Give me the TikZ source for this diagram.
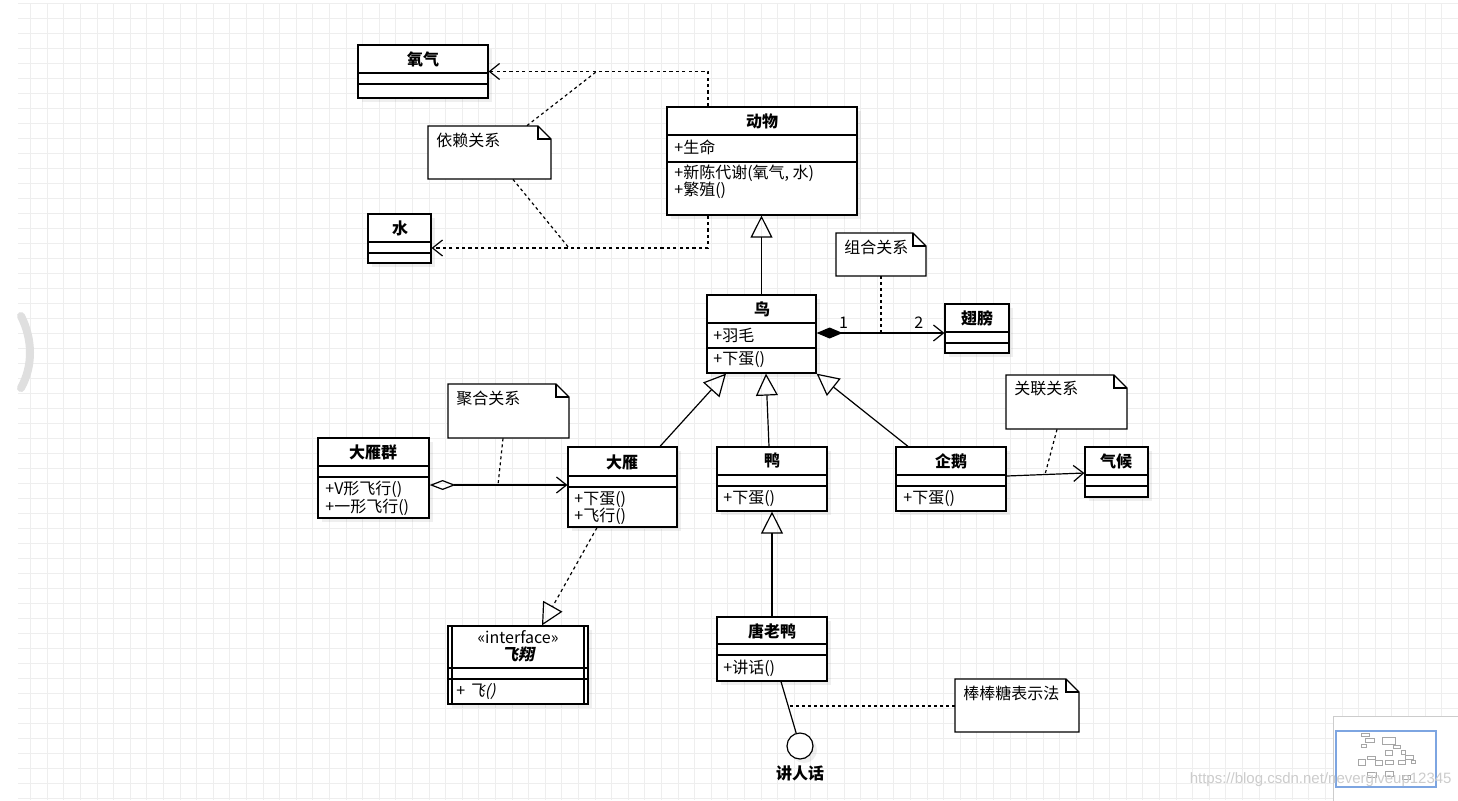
\documentclass[tikz,border=0pt]{standalone}
\usepackage{fontspec}
\setmainfont{Noto Sans CJK SC}[AutoFakeSlant=0.2]
\newfontfamily\slantfont{Noto Sans CJK SC}[FakeSlant=0.2, BoldFeatures={FakeSlant=0.2}]
\newfontfamily\wmfont{Liberation Sans}
\usetikzlibrary{calc, positioning, fit, arrows.meta, shadows}

\definecolor{gridgray}{RGB}{238,238,238}
\definecolor{mapblue}{RGB}{125,165,225}

\tikzset{
  classbox/.style={draw, fill=white, line width=0.6pt, inner sep=0pt,
    drop shadow={opacity=0.12, shadow xshift=2pt, shadow yshift=-2pt}},
  notepath/.style={draw, fill=white, line width=0.6pt},
  cname/.style={font=\fontsize{8}{9}\selectfont\bfseries, inner sep=0pt},
  member/.style={anchor=west, inner sep=0pt},
  link/.style={line width=0.6pt},
  notelink/.style={link, dash pattern=on 1.5pt off 1.5pt},
  dep/.style={link, dash pattern=on 1.6pt off 1.6pt, -{Straight Barb[length=5pt, width=8pt]}},
  gen/.style={link, -{Triangle[open, length=11pt, width=11pt]}},
  real/.style={link, dash pattern=on 1.6pt off 1.6pt, -{Triangle[open, length=11pt, width=11pt]}},
  comp/.style={link, {Diamond[length=13pt, width=5.5pt]}-{Straight Barb[length=5pt, width=8pt]}},
  aggr/.style={link, {Diamond[open, length=13pt, width=5pt]}-{Straight Barb[length=5pt, width=8pt]}},
  assoc/.style={link, -{Straight Barb[length=5pt, width=8pt]}},
  lolli/.style={draw, circle, fill=white, line width=0.6pt, minimum size=13pt, inner sep=0pt,
    drop shadow={opacity=0.12, shadow xshift=2pt, shadow yshift=-2pt}}
}

% class box: name, x1, y1, x2, y2, first and second compartment line
\newcommand{\umlclass}[7]{%
  \node[classbox, fit={(#2,#3) (#4,#5)}] (#1) {};
  \draw[link] (#2,#6) -- (#4,#6) (#2,#7) -- (#4,#7);
}
% note with folded corner: name, x1, y1, x2, y2, text
\newcommand{\umlnote}[6]{%
  \node[inner sep=0pt, fit={(#2,#3) (#4,#5)}] (#1) {};
  \draw[notepath] (#2,#3) -- ({#4-13},#3) -- (#4,{#3+13}) -- (#4,#5) -- (#2,#5) -- cycle;
  \draw[link] ({#4-13},#3) |- (#4,{#3+13});
  \node[member] (#1-txt) at ({#2+8},{#3+14}) {#6};
}

\begin{document}
\begin{tikzpicture}[x=0.5pt, y=-0.5pt, font=\fontsize{8}{9}\selectfont]
\useasboundingbox (0,0) rectangle (1458,800);
\fill[white] (0,0) rectangle (1458,800);
% canvas grid
\foreach \i in {0,...,85} \draw[gridgray, line width=0.5pt] ({30.7+16.6*\i},3) -- ({30.7+16.6*\i},800);
\foreach \j in {0,...,53} \draw[gridgray, line width=0.5pt] (18,{3.3+15*\j}) -- (1458,{3.3+15*\j});
% scroll handle
\draw[gray!25, line width=4pt, line cap=round] (21,316) .. controls (33,340) and (33,366) .. (21,388);

% classes
\umlclass{oxygen}{358}{45}{488}{98}{73}{84}
\node[cname] (oxygen-t) at (423,59) {氧气};
\umlclass{water}{368}{214}{431}{263}{242}{253}
\node[cname] (water-t) at (400,228) {水};
\umlclass{animal}{667}{107}{857}{215}{135}{162}
\node[cname] (animal-t) at (762,121) {动物};
\node[member] (animal-a1) at (674,147) {+生命};
\node[member] (animal-m1) at (674,173) {+新陈代谢(氧气, 水)};
\node[member] (animal-m2) at (674,190) {+繁殖()};
\umlclass{bird}{707}{295}{816}{373}{323}{348}
\node[cname] (bird-t) at (762,309) {鸟};
\node[member] (bird-a1) at (713,335) {+羽毛};
\node[member] (bird-m1) at (713,360) {+下蛋()};
\umlclass{wing}{945}{304}{1009}{353}{332}{343}
\node[cname] (wing-t) at (977,318) {翅膀};
\umlclass{flock}{318}{438}{429}{518}{466}{477}
\node[cname] (flock-t) at (373,452) {大雁群};
\node[member] (flock-m1) at (325,489) {+V形飞行()};
\node[member] (flock-m2) at (325,507) {+一形飞行()};
\umlclass{goose}{568}{447}{677}{527}{476}{487}
\node[cname] (goose-t) at (622,462) {大雁};
\node[member] (goose-m1) at (574,500) {+下蛋()};
\node[member] (goose-m2) at (574,516) {+飞行()};
\umlclass{duck}{717}{447}{827}{511}{475}{486}
\node[cname] (duck-t) at (772,461) {鸭};
\node[member] (duck-m1) at (723,499) {+下蛋()};
\umlclass{penguin}{896}{447}{1006}{511}{475}{486}
\node[cname] (penguin-t) at (951,461) {企鹅};
\node[member] (penguin-m1) at (903,499) {+下蛋()};
\umlclass{climate}{1085}{447}{1148}{497}{475}{486}
\node[cname] (climate-t) at (1116,461) {气候};
\umlclass{fly}{448}{626}{588}{704}{668}{679}
\draw[link] (452,626) -- (452,704) (584,626) -- (584,704);
\node[inner sep=0pt] (fly-s) at (518,637) {«interface»};
\node[cname, font=\fontsize{8}{9}\selectfont\slantfont\bfseries] (fly-t) at (518,654) {飞翔};
\node[member] (fly-m1) at (456,692) {+ {\slantfont 飞()}};
\umlclass{donald}{717}{617}{827}{681}{644}{655}
\node[cname] (donald-t) at (772,631) {唐老鸭};
\node[member] (donald-m1) at (723,668) {+讲话()};
\node[lolli] (speak) at (800,746) {};
\node[cname] (speak-t) at (800,773) {讲人话};

% notes
\umlnote{n-dep}{428}{126}{551}{179}{依赖关系}
\umlnote{n-comp}{836}{233}{926}{276}{组合关系}
\umlnote{n-aggr}{448}{384}{569}{438}{聚合关系}
\umlnote{n-assoc}{1006}{375}{1127}{429}{关联关系}
\umlnote{n-lolli}{955}{679}{1079}{732}{棒棒糖表示法}

% dependency
\coordinate (dep-o) at (596,72);
\coordinate (dep-w) at (569,248);
\draw[dep] (animal.north -| 708,0) |- (oxygen.east);
\draw[dep] (animal.south -| 708,0) |- (water.east |- 0,248);
\draw[notelink] (n-dep.north -| 527,0) -- (dep-o);
\draw[notelink] (n-dep.south -| 513,0) -- (dep-w);
% generalization
\draw[gen] (bird.north) -- (bird.north |- animal.south);
\draw[gen] (goose.north -| 660,0) -- (bird.south -| 726,0);
\draw[gen] (duck.north -| 769,0) -- (bird.south -| 766,0);
\draw[gen] (penguin.north -| 908,0) -- (bird.south east);
\draw[gen] (donald.north -| 772,0) -- (duck.south -| 772,0);
% composition
\coordinate (comp-pt) at (881,333);
\draw[comp] (bird.east |- 0,333) -- (wing.west |- 0,333)
  node[pos=0.21, above=2pt, inner sep=0pt] (mult1) {1}
  node[pos=0.8, above=2pt, inner sep=0pt] (mult2) {2};
\draw[notelink] (n-comp.south -| 881,0) -- (comp-pt);
% aggregation
\coordinate (aggr-pt) at (498,485);
\draw[aggr] (flock.east |- 0,485) -- (goose.west |- 0,485);
\draw[notelink] (n-aggr.south -| 503,0) -- (aggr-pt);
% association
\coordinate (assoc-pt) at (1045,474.5);
\draw[assoc] (penguin.east |- 0,476) -- (climate.west |- 0,473);
\draw[notelink] (n-assoc.south -| 1057,0) -- (assoc-pt);
% realization
\draw[real] (goose.south -| 597,0) -- (fly.north -| 542,0);
% lollipop
\coordinate (lolli-pt) at (788,706);
\draw[link] (donald.south -| 781,0) -- (speak);
\draw[notelink] (n-lolli.west |- 0,706) -- (lolli-pt);

% overview map
\draw[gray!40, fill=white, drop shadow={opacity=0.1}] (1333,716) rectangle (1462,804);
\draw[mapblue, line width=0.8pt] (1336,731) rectangle (1436,787);
\begin{scope}[shift={(1358,733)}, xscale=0.0687, yscale=0.0673, shift={(-318,-45)}]
\foreach \a/\b/\c/\d in {358/45/488/98, 368/214/431/263, 667/107/857/215, 707/295/816/373,
  945/304/1009/353, 318/438/429/518, 568/447/677/527, 717/447/827/511, 896/447/1006/511,
  1085/447/1148/497, 448/626/588/704, 717/617/827/681, 428/126/551/179, 836/233/926/276,
  448/384/569/438, 1006/375/1127/429, 955/679/1079/732}
  \draw[gray!70, line width=0.2pt] (\a,\b) rectangle (\c,\d);
\end{scope}
\node[anchor=east, inner sep=0pt, text=gray!40, font=\wmfont\fontsize{7.5}{9}\selectfont] (wm) at (1452,780) {https://blog.csdn.net/nevergiveup12345};
\end{tikzpicture}
\end{document}
